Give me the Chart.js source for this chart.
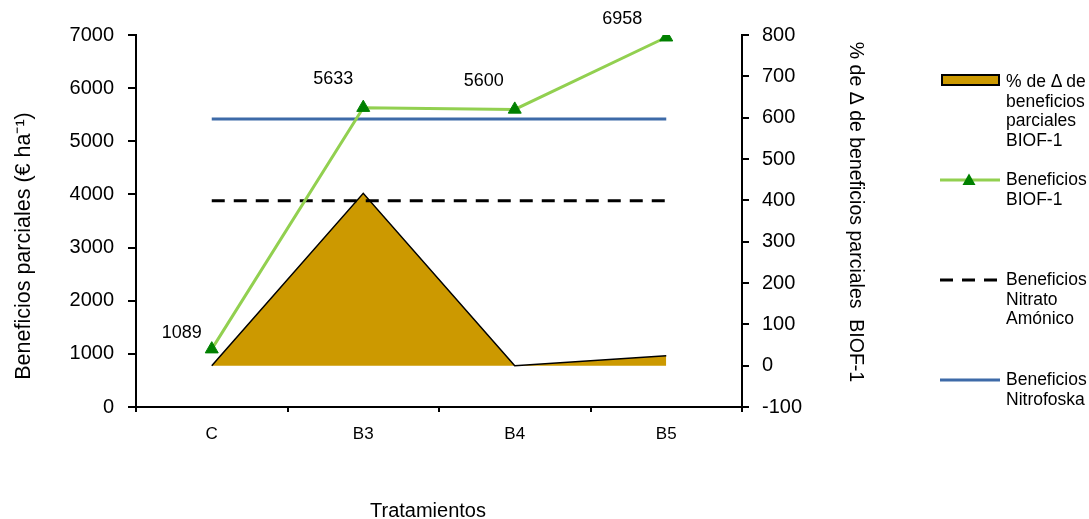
<!DOCTYPE html>
<html><head><meta charset="utf-8">
<script src="https://cdn.jsdelivr.net/npm/chart.js@4.4.0/dist/chart.umd.min.js"></script>
<style>
html,body{margin:0;padding:0;background:#fff;overflow:hidden;}
#wrap{position:relative;width:1089px;height:519px;}
canvas{position:absolute;left:0;top:0;}
svg{position:absolute;left:0;top:0;}
.lg{position:absolute;left:1006px;font-family:'Liberation Sans',Arial,sans-serif;font-size:17.5px;line-height:19.5px;color:#000;white-space:nowrap;}
</style></head><body>
<div id="wrap">
<canvas id="c" width="1089" height="519"></canvas>
<svg width="1089" height="519">
  <rect x="942" y="75" width="57" height="10" fill="#CC9900" stroke="#000" stroke-width="2"/>
  <line x1="940" y1="180" x2="1000" y2="180" stroke="#92D050" stroke-width="3"/>
  <polygon points="969,173.5 975.5,185 962.5,185" fill="#008000"/>
  <line x1="940" y1="280" x2="1000" y2="280" stroke="#000" stroke-width="3" stroke-dasharray="13,9"/>
  <line x1="940" y1="380" x2="1000" y2="380" stroke="#3D6AA8" stroke-width="3"/>
</svg>
<div class="lg" style="top:72px">% de Δ de<br>beneficios<br>parciales<br>BIOF-1</div>
<div class="lg" style="top:170px">Beneficios<br>BIOF-1</div>
<div class="lg" style="top:270px">Beneficios<br>Nitrato<br>Amónico</div>
<div class="lg" style="top:370px">Beneficios<br>Nitrofoska</div>
</div>
<script>
const categories = ['C', 'B3', 'B4', 'B5'];
const pctDeltaBIOF = [0, 417, 0, 24];
const beneficiosBIOF = [1089, 5633, 5600, 6958];
const beneficiosNitrato = [3880, 3880, 3880, 3880];
const beneficiosNitrofoska = [5420, 5420, 5420, 5420];
const leftAxisRange = {min: 0, max: 7000, step: 1000};
const rightAxisRange = {min: -100, max: 800, step: 100};
const leftTitle = 'Beneficios parciales (€ ha⁻¹)';
const rightTitle = '% de Δ de beneficios parciales  BIOF-1';
const xTitle = 'Tratamientos';

const FONT = "'Liberation Sans', Arial, sans-serif";

const labelPlugin = {
  id: 'valueLabels',
  afterDatasetsDraw(chart) {
    const meta = chart.getDatasetMeta(1);
    const offs = [[-30, -16], [-30, -29], [-31, -28], [-44, -18]];
    const ctx = chart.ctx;
    ctx.save();
    ctx.font = '18px ' + FONT;
    ctx.fillStyle = '#000';
    ctx.textAlign = 'center';
    ctx.textBaseline = 'middle';
    meta.data.forEach((pt, i) => {
      ctx.fillText(String(beneficiosBIOF[i]), pt.x + offs[i][0], pt.y + offs[i][1]);
    });
    ctx.restore();
  }
};

const titlePlugin = {
  id: 'axisTitles',
  afterDraw(chart) {
    const ctx = chart.ctx;
    ctx.save();
    ctx.fillStyle = '#000';
    ctx.textAlign = 'center';
    ctx.textBaseline = 'middle';
    ctx.save();
    ctx.font = '21.5px ' + FONT;
    ctx.translate(24, 246);
    ctx.rotate(-Math.PI / 2);
    ctx.fillText(leftTitle, 0, 0);
    ctx.restore();
    ctx.save();
    ctx.font = '19.5px ' + FONT;
    ctx.translate(855, 212);
    ctx.rotate(Math.PI / 2);
    ctx.fillText(rightTitle, 0, 0);
    ctx.restore();
    ctx.font = '20px ' + FONT;
    ctx.fillText(xTitle, 428, 511);
    ctx.restore();
  }
};

new Chart(document.getElementById('c'), {
  type: 'line',
  data: {
    labels: categories,
    datasets: [
      {
        label: '% de Δ de beneficios parciales BIOF-1',
        data: pctDeltaBIOF,
        yAxisID: 'y1',
        borderColor: '#000',
        borderWidth: 1.5,
        backgroundColor: '#CC9900',
        fill: 'origin',
        pointRadius: 0,
        tension: 0,
        order: 10
      },
      {
        label: 'Beneficios BIOF-1',
        data: beneficiosBIOF,
        yAxisID: 'y',
        borderColor: '#92D050',
        borderWidth: 3,
        pointStyle: 'triangle',
        pointRadius: 7.5,
        pointBackgroundColor: '#008000',
        pointBorderColor: '#008000',
        pointBorderWidth: 1,
        fill: false,
        tension: 0,
        order: 1
      },
      {
        label: 'Beneficios Nitrato Amónico',
        data: beneficiosNitrato,
        yAxisID: 'y',
        borderColor: '#000',
        borderWidth: 3,
        borderDash: [13, 9],
        pointRadius: 0,
        fill: false,
        order: 2
      },
      {
        label: 'Beneficios Nitrofoska',
        data: beneficiosNitrofoska,
        yAxisID: 'y',
        borderColor: '#3D6AA8',
        borderWidth: 3,
        pointRadius: 0,
        fill: false,
        order: 3
      }
    ]
  },
  options: {
    responsive: false,
    animation: false,
    devicePixelRatio: 1,
    layout: {padding: {top: 35, left: 0, right: 0, bottom: 0}},
    plugins: {legend: {display: false}, tooltip: {enabled: false}, title: {display: false}},
    scales: {
      x: {
        type: 'category',
        offset: true,
        grid: {offset: true, drawOnChartArea: false, drawTicks: true, tickLength: 5, color: '#000', lineWidth: 2},
        border: {display: true, color: '#000', width: 2},
        ticks: {color: '#000', font: {family: FONT, size: 17}, padding: 12},
        afterFit(s) { s.height = 112; }
      },
      y: {
        position: 'left',
        min: leftAxisRange.min, max: leftAxisRange.max,
        grid: {drawOnChartArea: false, drawTicks: true, tickLength: 8, color: '#000', lineWidth: 2},
        border: {display: true, color: '#000', width: 2},
        ticks: {stepSize: leftAxisRange.step, color: '#000', font: {family: FONT, size: 20}, padding: 14,
                callback: (v) => String(v)},
        afterFit(s) { s.width = 136; }
      },
      y1: {
        position: 'right',
        min: rightAxisRange.min, max: rightAxisRange.max,
        grid: {drawOnChartArea: false, drawTicks: true, tickLength: 7, color: '#000', lineWidth: 2},
        border: {display: true, color: '#000', width: 2},
        ticks: {stepSize: rightAxisRange.step, color: '#000', font: {family: FONT, size: 20}, padding: 13,
                callback: (v) => String(v)},
        afterFit(s) { s.width = 1089 - 742; }
      }
    }
  },
  plugins: [labelPlugin, titlePlugin]
});
</script>
</body></html>
